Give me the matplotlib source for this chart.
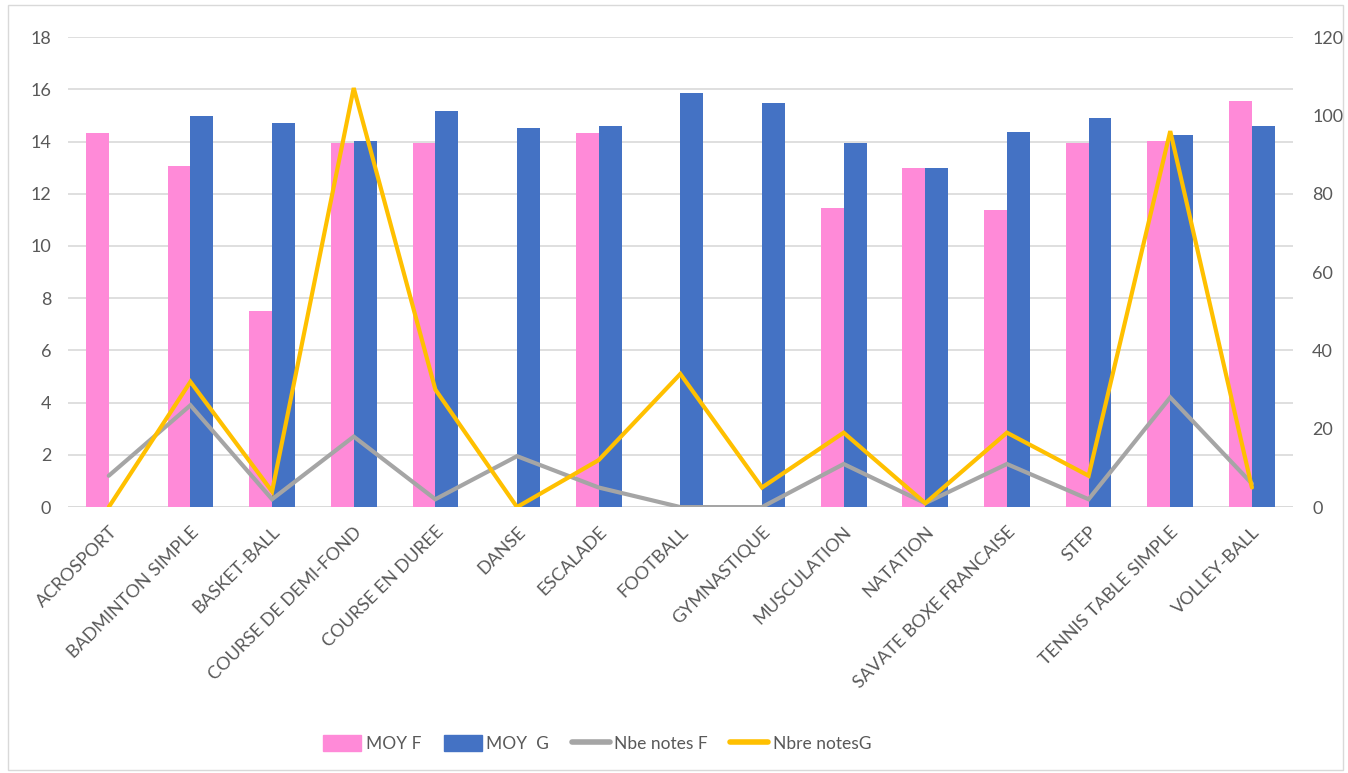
import numpy as np
import matplotlib
matplotlib.use("Agg")
import matplotlib.pyplot as plt
from matplotlib.patches import Rectangle
from matplotlib.lines import Line2D
from matplotlib.patches import Patch

categories = ["ACROSPORT", "BADMINTON SIMPLE", "BASKET-BALL", "COURSE DE DEMI-FOND",
              "COURSE EN DUREE", "DANSE", "ESCALADE", "FOOTBALL", "GYMNASTIQUE",
              "MUSCULATION", "NATATION", "SAVATE BOXE FRANCAISE", "STEP",
              "TENNIS TABLE SIMPLE", "VOLLEY-BALL"]
moy_f = [14.32, 13.06, 7.5, 13.94, 13.94, np.nan, 14.32, np.nan, np.nan,
         11.45, 12.98, 11.37, 13.94, 14.02, 15.55]
moy_g = [np.nan, 14.97, 14.7, 14.02, 15.17, 14.52, 14.6, 15.86, 15.47,
         13.94, 12.98, 14.36, 14.9, 14.25, 14.6]
nb_f = [8, 26, 2, 18, 2, 13, 5, 0, 0, 11, 1, 11, 2, 28, 6]
nb_g = [0, 32, 4, 107, 30, 0, 12, 34, 5, 19, 1, 19, 8, 96, 5]

pink = "#FF8AD8"
blue = "#4472C4"
grey = "#A5A5A5"
gold = "#FFC000"
txt = "#595959"

plt.rcParams['font.family'] = ['Lato', 'DejaVu Sans']

fig = plt.figure(figsize=(13.48, 7.73), dpi=100)
ax = fig.add_axes([0.0504, 0.344, 0.9086, 0.608])
ax2 = ax.twinx()

x = np.arange(len(categories))
w = 0.28
ax.bar(x - w/2, moy_f, w, color=pink, zorder=2)
ax.bar(x + w/2, moy_g, w, color=blue, zorder=2)
ax.set_ylim(0, 18)
ax.set_yticks(range(0, 19, 2))
ax.set_xlim(-0.5, len(categories) - 0.5)
ax.grid(axis='y', color='#D9D9D9', lw=1.2, zorder=0)
ax.set_axisbelow(True)

ax2.plot(x, nb_f, color=grey, lw=3.0, solid_capstyle='round', solid_joinstyle='miter', zorder=3)
ax2.plot(x, nb_g, color=gold, lw=3.0, solid_capstyle='round', solid_joinstyle='miter', zorder=4)
ax2.set_ylim(0, 120)
ax2.set_yticks(range(0, 121, 20))

for a in (ax, ax2):
    for s in a.spines.values():
        s.set_visible(False)
    a.tick_params(length=0, colors=txt, labelsize=13)
ax.tick_params(axis='y', pad=12)
ax2.tick_params(axis='y', pad=14)
ax.set_xticks(x)
ax.set_xticklabels(categories, rotation=45, ha='right', rotation_mode='anchor',
                   fontsize=13, color=txt)
ax.tick_params(axis='x', pad=12)
ax.axhline(0, color='#D9D9D9', lw=1.2, zorder=1)
ax2.set_zorder(ax.get_zorder() + 1)
ax2.patch.set_visible(False)

handles = [Patch(color=pink, label="MOY F"), Patch(color=blue, label="MOY  G"),
           Line2D([], [], color=grey, lw=4, solid_capstyle='round', label="Nbe notes F"),
           Line2D([], [], color=gold, lw=4, solid_capstyle='round', label="Nbre notesG")]
leg = fig.legend(handles=handles, loc='center', bbox_to_anchor=(0.443, 0.038), ncol=4,
                 frameon=False, fontsize=12.5, handlelength=2.2, handleheight=1.0,
                 columnspacing=1.3, handletextpad=0.25)
for t in leg.get_texts():
    t.set_color(txt)

fig.patches.append(Rectangle((0.006, 0.004), 0.99, 0.99, transform=fig.transFigure,
                             fill=False, edgecolor='#D9D9D9', lw=1))

fig.savefig("out.png", dpi=100)
